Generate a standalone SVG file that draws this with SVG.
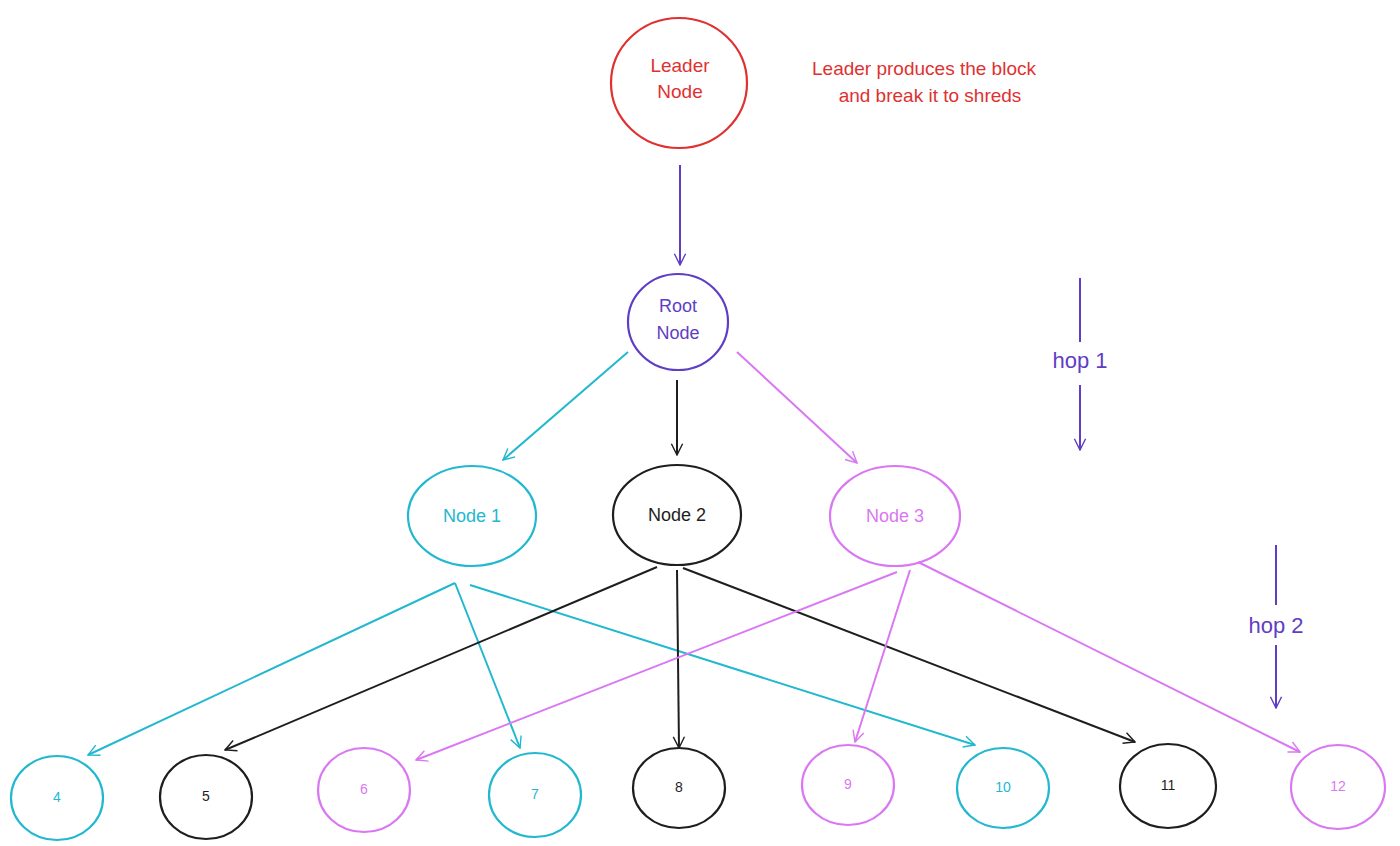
<svg xmlns="http://www.w3.org/2000/svg" width="1400" height="846" viewBox="0 0 1400 846">
<defs>
<style>
text{font-family:"Liberation Sans",sans-serif;text-anchor:middle;dominant-baseline:middle}
circle,ellipse{fill:none;stroke-width:2.2}
line{stroke-width:2}
.cy{stroke:#22b8cf}.bk{stroke:#1e1e1e}.pk{stroke:#da77f2}.pu{stroke:#5f3dc4}.rd{stroke:#e03131}
</style>
<marker id="acy" viewBox="0 0 20 20" refX="18" refY="10" markerWidth="14" markerHeight="14" orient="auto" markerUnits="userSpaceOnUse"><path d="M2 2L18 10L2 18" fill="none" stroke="#22b8cf" stroke-width="2"/></marker>
<marker id="abk" viewBox="0 0 20 20" refX="18" refY="10" markerWidth="14" markerHeight="14" orient="auto" markerUnits="userSpaceOnUse"><path d="M2 2L18 10L2 18" fill="none" stroke="#1e1e1e" stroke-width="2"/></marker>
<marker id="apk" viewBox="0 0 20 20" refX="18" refY="10" markerWidth="14" markerHeight="14" orient="auto" markerUnits="userSpaceOnUse"><path d="M2 2L18 10L2 18" fill="none" stroke="#da77f2" stroke-width="2"/></marker>
<marker id="apu" viewBox="0 0 20 20" refX="18" refY="10" markerWidth="14" markerHeight="14" orient="auto" markerUnits="userSpaceOnUse"><path d="M2 2L18 10L2 18" fill="none" stroke="#5f3dc4" stroke-width="2"/></marker>
</defs>
<rect width="1400" height="846" fill="#fff"/>
<g id="leader"><ellipse class="rd" cx="679" cy="83" rx="68" ry="65"/><text x="680" y="67" fill="#e03131" font-size="19">Leader</text><text x="680" y="93" fill="#e03131" font-size="19">Node</text></g>
<g id="leader-note"><text x="924" y="70" fill="#e03131" font-size="19">Leader produces the block</text><text x="930" y="97" fill="#e03131" font-size="19">and break it to shreds</text></g>
<g id="root"><ellipse class="pu" cx="678" cy="322" rx="50" ry="48"/><text x="678" y="307" fill="#5f3dc4" font-size="18">Root</text><text x="678" y="334" fill="#5f3dc4" font-size="18">Node</text></g>
<g id="node1"><ellipse class="cy" cx="472" cy="516" rx="64" ry="50"/><text x="472" y="517" fill="#22b8cf" font-size="18">Node 1</text></g>
<g id="node2"><ellipse class="bk" cx="677" cy="515" rx="64" ry="50"/><text x="677" y="516" fill="#1e1e1e" font-size="18">Node 2</text></g>
<g id="node3"><ellipse class="pk" cx="895" cy="516" rx="65" ry="50"/><text x="895" y="517" fill="#da77f2" font-size="18">Node 3</text></g>
<g id="n4"><ellipse class="cy" cx="57" cy="798" rx="46" ry="42"/><text x="57" y="798" fill="#22b8cf" font-size="14">4</text></g>
<g id="n5"><ellipse class="bk" cx="206" cy="797" rx="46" ry="42"/><text x="206" y="797" fill="#1e1e1e" font-size="14">5</text></g>
<g id="n6"><ellipse class="pk" cx="364" cy="790" rx="46" ry="42"/><text x="364" y="790" fill="#da77f2" font-size="14">6</text></g>
<g id="n7"><ellipse class="cy" cx="535" cy="795" rx="46" ry="42"/><text x="535" y="795" fill="#22b8cf" font-size="14">7</text></g>
<g id="n8"><ellipse class="bk" cx="679" cy="788" rx="46" ry="40"/><text x="679" y="788" fill="#1e1e1e" font-size="14">8</text></g>
<g id="n9"><ellipse class="pk" cx="848" cy="785" rx="46" ry="40"/><text x="848" y="785" fill="#da77f2" font-size="14">9</text></g>
<g id="n10"><ellipse class="cy" cx="1003" cy="788" rx="46" ry="40"/><text x="1003" y="788" fill="#22b8cf" font-size="14">10</text></g>
<g id="n11"><ellipse class="bk" cx="1168" cy="786" rx="48" ry="42"/><text x="1168" y="786" fill="#1e1e1e" font-size="14">11</text></g>
<g id="n12"><ellipse class="pk" cx="1338" cy="787" rx="47" ry="42"/><text x="1338" y="787" fill="#da77f2" font-size="14">12</text></g>
<g id="hops"><line class="pu" x1="1080" y1="278" x2="1080" y2="342"/><text x="1080" y="362" fill="#5f3dc4" font-size="22">hop 1</text><line class="pu" x1="1080" y1="385" x2="1080" y2="450" marker-end="url(#apu)"/>
<line class="pu" x1="1276" y1="545" x2="1276" y2="605"/><text x="1276" y="627" fill="#5f3dc4" font-size="22">hop 2</text><line class="pu" x1="1276" y1="645" x2="1276" y2="708" marker-end="url(#apu)"/></g>
<g id="connectors">
<line class="pu" x1="680" y1="165" x2="680" y2="265" marker-end="url(#apu)"/>
<line class="cy" x1="628" y1="352" x2="503" y2="460" marker-end="url(#acy)"/>
<line class="bk" x1="677" y1="380" x2="677" y2="455" marker-end="url(#abk)"/>
<line class="pk" x1="737" y1="352" x2="857" y2="463" marker-end="url(#apk)"/>
<line class="cy" x1="455" y1="583" x2="88" y2="755" marker-end="url(#acy)"/>
<line class="cy" x1="455" y1="583" x2="520" y2="748" marker-end="url(#acy)"/>
<line class="cy" x1="470" y1="585" x2="975" y2="745" marker-end="url(#acy)"/>
<line class="bk" x1="657" y1="567" x2="225" y2="750" marker-end="url(#abk)"/>
<line class="bk" x1="677" y1="570" x2="679" y2="748" marker-end="url(#abk)"/>
<line class="bk" x1="683" y1="568" x2="1135" y2="742" marker-end="url(#abk)"/>
<line class="pk" x1="897" y1="572" x2="416" y2="760" marker-end="url(#apk)"/>
<line class="pk" x1="910" y1="570" x2="855" y2="742" marker-end="url(#apk)"/>
<line class="pk" x1="918" y1="562" x2="1300" y2="752" marker-end="url(#apk)"/>
</g>
</svg>
